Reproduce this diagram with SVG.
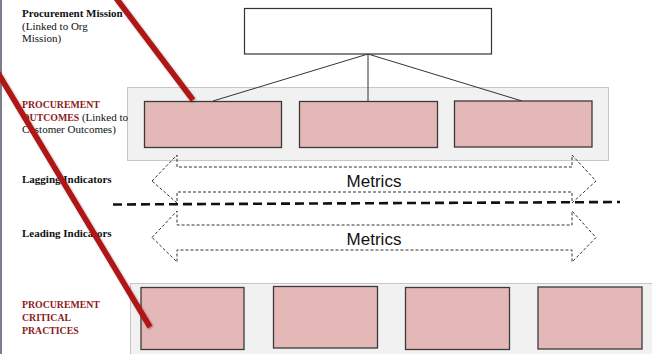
<svg xmlns="http://www.w3.org/2000/svg" width="652" height="354" viewBox="0 0 652 354">
<defs>
<style>
.lbl{font-family:"Liberation Serif","DejaVu Serif",serif;font-size:11px;fill:#111}
.b{font-weight:bold}
.red{fill:#8b1a1a;font-weight:bold;font-size:9.8px}
.panel{fill:#f1f1f1;stroke:#c6c6c6;stroke-width:1}
.box{fill:#e5b8b8;stroke:#3a3a3a;stroke-width:1.3}
.conn{stroke:#333;stroke-width:1;fill:none}
.arrow{fill:none;stroke:#333;stroke-width:1;stroke-dasharray:3 2}
.metrics{font-family:"Liberation Sans","Open Sans",sans-serif;font-size:17px;fill:#111;text-anchor:middle}
.slash{stroke:#b01212;stroke-width:5.5;stroke-linecap:butt;fill:none}
</style>
<filter id="sh" x="-20%" y="-20%" width="140%" height="140%">
<feDropShadow dx="1" dy="1" stdDeviation="1" flood-color="#000" flood-opacity="0.35"/>
</filter>
</defs>
<rect width="652" height="354" fill="#fff"/>
<line x1="1" y1="0" x2="1" y2="354" stroke="#7d7d8c" stroke-width="2"/>

<rect class="panel" x="127.5" y="87.5" width="481" height="73"/>
<rect class="panel" x="130.5" y="283.5" width="523" height="72"/>

<g id="labels">
<text class="lbl b" x="22" y="17">Procurement Mission</text>
<text class="lbl" x="22" y="30">(Linked to Org</text>
<text class="lbl" x="22" y="42">Mission)</text>
<text class="lbl red" x="22" y="108">PROCUREMENT</text>
<text class="lbl" x="22" y="121"><tspan class="red">OUTCOMES</tspan> (Linked to</text>
<text class="lbl" x="22" y="133">Customer Outcomes)</text>
<text class="lbl b" x="22" y="183">Lagging Indicators</text>
<text class="lbl b" x="22" y="237">Leading Indicators</text>
<text class="lbl red" x="22" y="308">PROCUREMENT</text>
<text class="lbl red" x="22" y="321">CRITICAL</text>
<text class="lbl red" x="22" y="334">PRACTICES</text>
</g>

<g id="connectors">
<line class="conn" x1="368" y1="54" x2="213" y2="101"/>
<line class="conn" x1="368" y1="54" x2="368" y2="101"/>
<line class="conn" x1="368" y1="54" x2="522" y2="101"/>
</g>

<g id="mission"><rect x="244.5" y="8.5" width="247" height="45.5" fill="#fff" stroke="#333" stroke-width="1.2"/></g>

<g id="outcome1"><rect class="box" x="144.5" y="101.5" width="137" height="46"/></g>
<g id="outcome2"><rect class="box" x="299.5" y="101.5" width="138" height="46"/></g>
<g id="outcome3"><rect class="box" x="454.5" y="101" width="137.5" height="46"/></g>

<g id="lagging">
<polygon class="arrow" points="152,181 177,155 177,167 572,167 572,155 596,181 572,203 572,192 177,192 177,203"/>
<text class="metrics" x="374" y="187">Metrics</text>
</g>
<g id="leading">
<polygon class="arrow" points="152,237.5 177,211 177,225 572,225 572,211 596,237.5 572,262 572,250 177,250 177,262"/>
<text class="metrics" x="374" y="245">Metrics</text>
</g>

<line x1="113" y1="204.5" x2="620" y2="202" stroke="#111" stroke-width="2.6" stroke-dasharray="9 5"/>

<g id="practice1"><rect class="box" x="141" y="287.5" width="103" height="62"/></g>
<g id="practice2"><rect class="box" x="273.5" y="286.5" width="104" height="61.5"/></g>
<g id="practice3"><rect class="box" x="405.5" y="287.5" width="104" height="62"/></g>
<g id="practice4"><rect class="box" x="538" y="287" width="104" height="62"/></g>

<g filter="url(#sh)">
<line class="slash" x1="116" y1="-2" x2="193" y2="100"/>
<line class="slash" x1="-2" y1="73" x2="150" y2="327"/>
</g>
</svg>
